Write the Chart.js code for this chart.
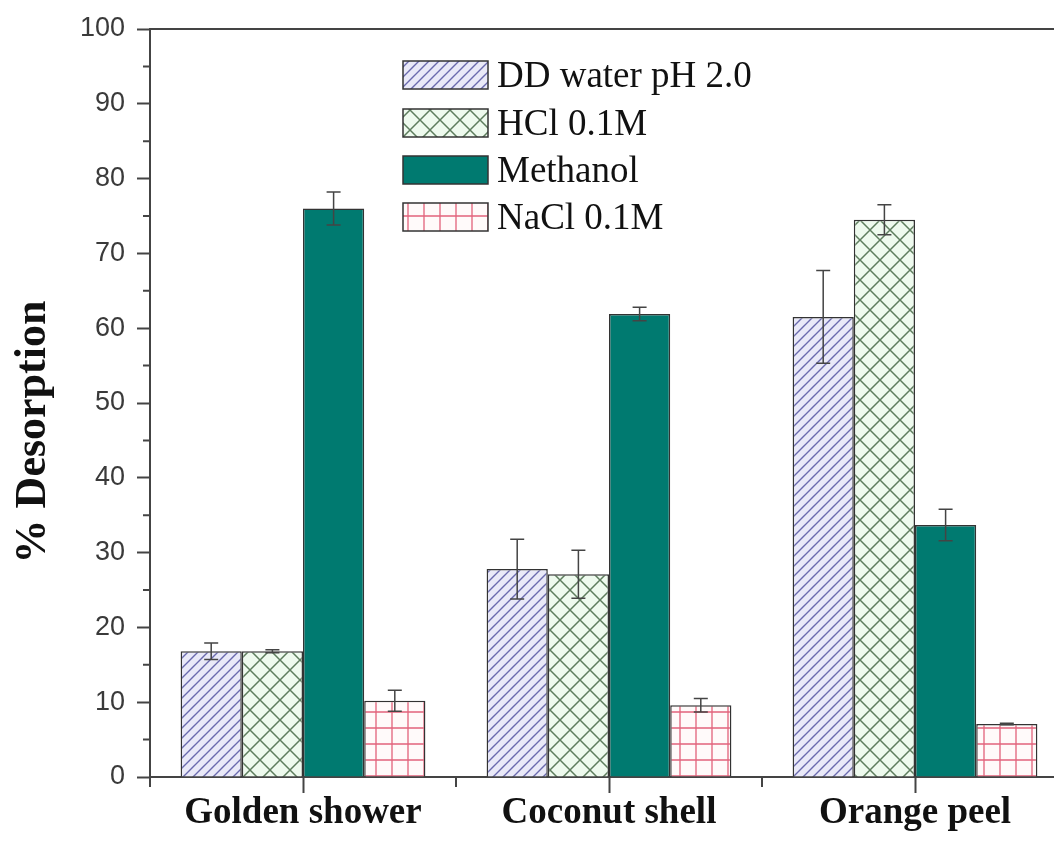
<!DOCTYPE html>
<html>
<head>
<meta charset="utf-8">
<script src="https://cdn.jsdelivr.net/npm/chart.js@4.4.1/dist/chart.umd.min.js"></script>
<style>
  html, body { margin: 0; padding: 0; background: #fff; overflow: hidden; }
  #wrap { width: 1070px; height: 842px; }
</style>
</head>
<body>
<div id="wrap"><canvas id="barchart"></canvas></div>
<script>
// values
const categories = ['Golden shower', 'Coconut shell', 'Orange peel']
const ddWater = [16.8, 27.8, 61.5]
const ddWaterErr = [1.1, 4.0, 6.2]
const hcl = [16.8, 27.1, 74.5]
const hclErr = [0.2, 3.2, 2.0]
const methanol = [76.0, 61.9, 33.7]
const methanolErr = [2.2, 0.9, 2.1]
const nacl = [10.2, 9.6, 7.1]
const naclErr = [1.4, 0.9, 0.1]
const yTicks = [0, 10, 20, 30, 40, 50, 60, 70, 80, 90, 100]

function makePattern(size, bg, draw)
{
    const c = document.createElement('canvas')
    c.width = size
    c.height = size
    const g = c.getContext('2d')
    g.fillStyle = bg
    g.fillRect(0, 0, size, size)
    draw(g, size)
    return g.createPattern(c, 'repeat')
}

const hatchBlue = makePattern(10, '#e9e9f8', (g, s) => {
    g.strokeStyle = '#6a6aae'
    g.lineWidth = 1.4
    g.beginPath()
    g.moveTo(-1, s + 1); g.lineTo(s + 1, -1)
    g.moveTo(-1, 1); g.lineTo(1, -1)
    g.moveTo(s - 1, s + 1); g.lineTo(s + 1, s - 1)
    g.stroke()
})

const crossGreen = makePattern(20, '#eefaee', (g, s) => {
    g.strokeStyle = '#5e7d5e'
    g.lineWidth = 1.5
    g.beginPath()
    g.moveTo(0, 0); g.lineTo(s, s)
    g.moveTo(0, s); g.lineTo(s, 0)
    g.stroke()
})

const gridRed = makePattern(16, '#fffafa', (g, s) => {
    g.strokeStyle = '#e2637c'
    g.lineWidth = 1.3
    g.beginPath()
    g.moveTo(s / 2, 0); g.lineTo(s / 2, s)
    g.moveTo(0, s / 2); g.lineTo(s, s / 2)
    g.stroke()
})

const errs = [ddWaterErr, hclErr, methanolErr, naclErr]

const errorBars = {
    id: 'errorBars',
    afterDatasetsDraw(chart) {
        const ctx = chart.ctx
        const y = chart.scales.y
        ctx.save()
        ctx.strokeStyle = '#444'
        ctx.lineWidth = 1.5
        chart.data.datasets.forEach((ds, i) => {
            const meta = chart.getDatasetMeta(i)
            meta.data.forEach((bar, j) => {
                const v = ds.data[j]
                const e = errs[i][j]
                const top = y.getPixelForValue(v + e)
                const bot = y.getPixelForValue(v - e)
                ctx.beginPath()
                ctx.moveTo(bar.x, top); ctx.lineTo(bar.x, bot)
                ctx.moveTo(bar.x - 7, top); ctx.lineTo(bar.x + 7, top)
                ctx.moveTo(bar.x - 7, bot); ctx.lineTo(bar.x + 7, bot)
                ctx.stroke()
            })
        })
        ctx.restore()
    }
}

const frameAndTicks = {
    id: 'frameAndTicks',
    afterDraw(chart) {
        const ctx = chart.ctx
        const a = chart.chartArea
        const x = chart.scales.x
        const y = chart.scales.y
        ctx.save()
        ctx.strokeStyle = '#444'
        ctx.lineWidth = 2
        // top frame
        ctx.beginPath()
        ctx.moveTo(a.left, a.top); ctx.lineTo(a.right, a.top)
        ctx.moveTo(a.right, a.top); ctx.lineTo(a.right, a.bottom)
        ctx.stroke()
        // minor y ticks
        ctx.beginPath()
        for (let v = 5; v < 100; v += 10) {
            const py = y.getPixelForValue(v)
            ctx.moveTo(a.left - 7, py); ctx.lineTo(a.left, py)
        }
        // minor x ticks at category edges
        const half = (x.getPixelForValue(1) - x.getPixelForValue(0)) / 2
        for (let i = 0; i <= categories.length; i++) {
            const px = x.getPixelForValue(0) - half + i * half * 2
            ctx.moveTo(px, a.bottom); ctx.lineTo(px, a.bottom + 10)
        }
        ctx.stroke()

        // y title
        ctx.fillStyle = '#111'
        ctx.font = 'bold 44px "Liberation Serif"'
        ctx.textAlign = 'center'
        ctx.textBaseline = 'alphabetic'
        ctx.translate(45, 432)
        ctx.rotate(-Math.PI / 2)
        ctx.fillText('% Desorption', 0, 0)
        ctx.restore()

        // legend
        ctx.save()
        const rows = [75, 123, 170, 217]
        ctx.font = '37px "Liberation Serif"'
        ctx.textBaseline = 'middle'
        ctx.textAlign = 'left'
        chart.data.datasets.forEach((ds, i) => {
            const cy = rows[i]
            ctx.fillStyle = ds.backgroundColor
            ctx.fillRect(403, cy - 14, 85, 28)
            ctx.strokeStyle = '#333'
            ctx.lineWidth = 1.5
            ctx.strokeRect(403, cy - 14, 85, 28)
            ctx.fillStyle = '#111'
            ctx.fillText(ds.label, 497, cy + 2)
        })
        ctx.restore()
    }
}

const ctx = document.getElementById('barchart')

new Chart(ctx, {
  type: 'bar',
  data: {
    labels: categories,
    datasets: [
      { label: 'DD water pH 2.0', data: ddWater, backgroundColor: hatchBlue },
      { label: 'HCl 0.1M', data: hcl, backgroundColor: crossGreen },
      { label: 'Methanol', data: methanol, backgroundColor: '#007a70' },
      { label: 'NaCl 0.1M', data: nacl, backgroundColor: gridRed }
    ].map(d => Object.assign(d, {
      borderColor: '#333',
      borderWidth: 1.5,
      borderSkipped: 'start',
      categoryPercentage: 0.8,
      barPercentage: 1.0
    }))
  },
  options: {
    responsive: true,
    maintainAspectRatio: false,
    animation: false,
    layout: { padding: { top: 29, right: 2, left: 0, bottom: 0 } },
    plugins: {
      legend: { display: false },
      tooltip: { enabled: false }
    },
    scales: {
      x: {
        grid: {
          display: true,
          drawOnChartArea: false,
          offset: false,
          tickLength: 16,
          tickWidth: 2,
          tickColor: '#444'
        },
        border: { color: '#444', width: 2 },
        ticks: {
          color: '#111',
          padding: 0,
          font: { family: 'Liberation Serif', size: 37, weight: 'bold', lineHeight: 1.1 }
        },
        afterFit(scale) { scale.height = 65 }
      },
      y: {
        min: 0,
        max: 100,
        afterBuildTicks(scale) { scale.ticks = yTicks.map(v => ({ value: v })) },
        grid: {
          display: true,
          drawOnChartArea: false,
          tickLength: 13,
          tickWidth: 2,
          tickColor: '#444'
        },
        border: { color: '#444', width: 2 },
        ticks: {
          color: '#3a3a3a',
          padding: 12,
          font: { family: 'Liberation Sans', size: 27 }
        },
        afterFit(scale) { scale.width = 150 }
      }
    }
  },
  plugins: [errorBars, frameAndTicks]
});
</script>
</body>
</html>
